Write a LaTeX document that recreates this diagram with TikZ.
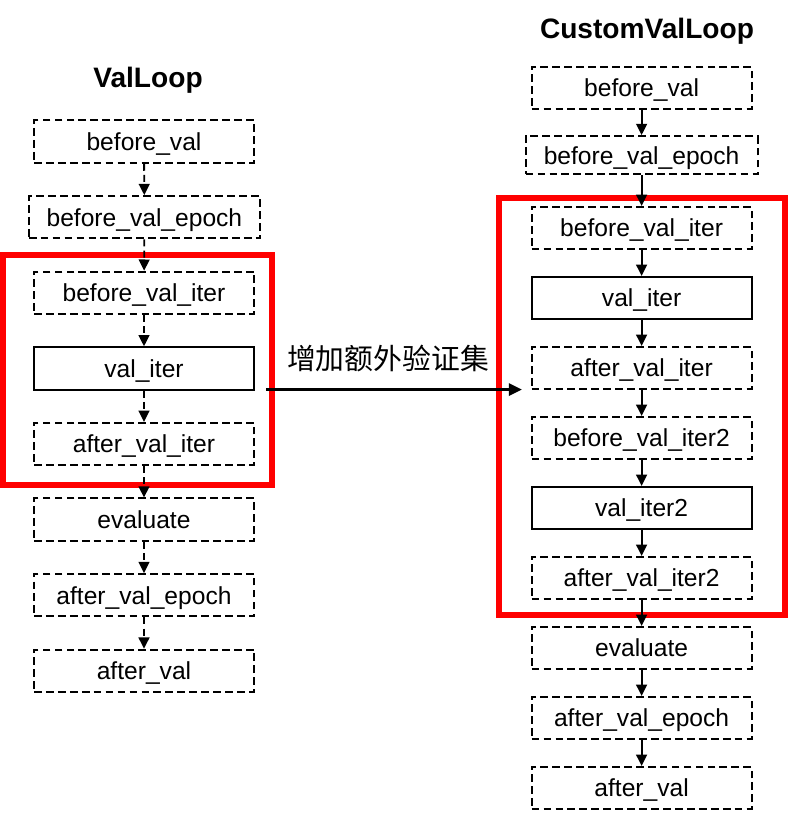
\documentclass[tikz,border=0pt]{standalone}
\usepackage{fontspec}
\setmainfont{Liberation Sans}
\newfontfamily\cjkfont{Noto Sans CJK SC}
\usepackage{xcolor}
\usetikzlibrary{arrows.meta}
\definecolor{frame-red}{HTML}{FF0000}
\definecolor{jet}{HTML}{000000}

\begin{document}
\begin{tikzpicture}[every node/.style={font=\fontsize{17.5}{21}\selectfont, inner sep=0pt},
  hookbox/.style={draw=jet, line width=1.3pt, dash pattern=on 5.5pt off 3pt,
    minimum width=5.5cm, minimum height=1.06cm, text depth=0pt},
  iterbox/.style={draw=jet, line width=1.3pt, minimum width=5.5cm, minimum height=1.06cm,
    text depth=0pt},
  flow/.style={draw=jet, line width=1.3pt, -{Triangle[length=0.28cm, width=0.27cm]}},
  title/.style={font=\fontsize{20}{24}\selectfont\bfseries}]
  \useasboundingbox (0, 0) rectangle (19.7, -20.425);
  % red frames
  \draw[frame-red, line width=4.3pt] (0.075, -6.375) rectangle (6.8, -12.125);
  \draw[frame-red, line width=4.3pt] (12.475, -4.95) rectangle (19.625, -15.375);
  % ValLoop
  \node[title] (t1) at (3.7, -2.0) {ValLoop};
  \node[hookbox] (l1) at (3.6, -3.54) {before\_val};
  \node[hookbox, minimum width=5.78cm] (l2) at (3.61, -5.43) {before\_val\_epoch};
  \node[hookbox] (l3) at (3.6, -7.32) {before\_val\_iter};
  \node[iterbox] (l4) at (3.6, -9.21) {val\_iter};
  \node[hookbox] (l5) at (3.6, -11.10) {after\_val\_iter};
  \node[hookbox] (l6) at (3.6, -12.99) {evaluate};
  \node[hookbox] (l7) at (3.6, -14.88) {after\_val\_epoch};
  \node[hookbox] (l8) at (3.6, -16.77) {after\_val};
  \draw[flow, dash pattern=on 5pt off 3pt] (l1) -- (l2);
  \draw[flow, dash pattern=on 5pt off 3pt] (l2) -- (l3);
  \draw[flow, dash pattern=on 5pt off 3pt] (l3) -- (l4);
  \draw[flow, dash pattern=on 5pt off 3pt] (l4) -- (l5);
  \draw[flow, dash pattern=on 5pt off 3pt] (l5) -- (l6);
  \draw[flow, dash pattern=on 5pt off 3pt] (l6) -- (l7);
  \draw[flow, dash pattern=on 5pt off 3pt] (l7) -- (l8);
  % CustomValLoop
  \node[title] (t2) at (16.175, -0.77) {CustomValLoop};
  \node[hookbox] (r1) at (16.04, -2.2) {before\_val};
  \node[hookbox, minimum width=5.8cm, minimum height=0.96cm] (r2) at (16.04, -3.88) {before\_val\_epoch};
  \node[hookbox] (r3) at (16.04, -5.7) {before\_val\_iter};
  \node[iterbox] (r4) at (16.04, -7.45) {val\_iter};
  \node[hookbox] (r5) at (16.04, -9.2) {after\_val\_iter};
  \node[hookbox] (r6) at (16.04, -10.95) {before\_val\_iter2};
  \node[iterbox] (r7) at (16.04, -12.7) {val\_iter2};
  \node[hookbox] (r8) at (16.04, -14.45) {after\_val\_iter2};
  \node[hookbox] (r9) at (16.04, -16.2) {evaluate};
  \node[hookbox] (r10) at (16.04, -17.95) {after\_val\_epoch};
  \node[hookbox] (r11) at (16.04, -19.7) {after\_val};
  \draw[flow] (r1) -- (r2);
  \draw[flow] (r2) -- (r3);
  \draw[flow] (r3) -- (r4);
  \draw[flow] (r4) -- (r5);
  \draw[flow] (r5) -- (r6);
  \draw[flow] (r6) -- (r7);
  \draw[flow] (r7) -- (r8);
  \draw[flow] (r8) -- (r9);
  \draw[flow] (r9) -- (r10);
  \draw[flow] (r10) -- (r11);
  % extra val set
  \coordinate (addS) at (6.65, -9.74);
  \coordinate (addE) at (13.05, -9.74);
  \draw[jet, line width=2.1pt, -{Triangle[length=0.33cm, width=0.3cm]}] (addS) -- (addE);
  \node[font=\fontsize{20.5}{24}\selectfont\cjkfont] (addlbl) at (9.7, -8.95) {增加额外验证集};
\end{tikzpicture}
\end{document}
